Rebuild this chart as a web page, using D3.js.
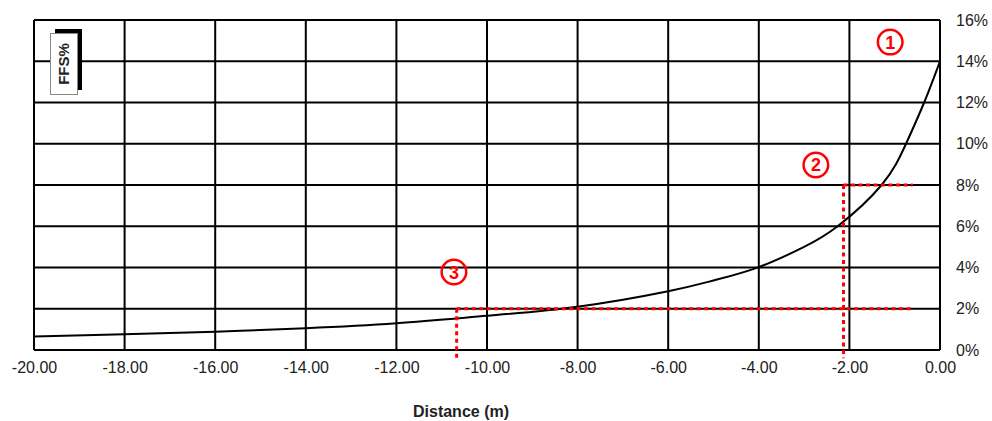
<!DOCTYPE html>
<html>
<head>
<meta charset="utf-8">
<script src="https://cdn.jsdelivr.net/npm/d3@7"></script>
<style>
  body { margin: 0; background: #fff; }
  text { font-family: "Liberation Sans", Arial, sans-serif; }
</style>
</head>
<body>
<div id="graph"></div>
<script>
// curve: distance (m) vs FFS (%)
const distances = [-20, -18, -16, -14, -12, -10, -8, -6, -5, -4, -3, -2.26, -1.29, -0.75, -0.35, 0];
const ffsValues = [0.65, 0.76, 0.89, 1.06, 1.3, 1.66, 2.1, 2.85, 3.37, 4.02, 5.0, 6.0, 8.0, 10.0, 12.0, 14.0];

const xTicks = [-20, -18, -16, -14, -12, -10, -8, -6, -4, -2, 0];
const yTicks = [0, 2, 4, 6, 8, 10, 12, 14, 16];

// red dotted guide lines [x1, y1, x2, y2] in data units
const guides = [
  [-2.13, 8, -0.6, 8],
  [-2.13, 8, -2.13, -0.4],
  [-10.67, 2, -0.6, 2],
  [-10.67, 2, -10.67, -0.4]
];
// circled markers
const markerLabels = ["1", "2", "3"];
const markerPos = [[-1.1, 14.93], [-2.74, 8.97], [-10.73, 3.78]];

const W = 992, H = 421;
const mLeft = 34, mRight = 940, mTop = 20, mBottom = 350;

const x = d3.scaleLinear().domain([-20, 0]).range([mLeft, mRight]);
const y = d3.scaleLinear().domain([0, 16]).range([mBottom, mTop]);

const svg = d3.select("#graph").append("svg")
  .attr("width", W).attr("height", H);

// grid
svg.append("g").selectAll("line").data(xTicks).enter().append("line")
  .attr("x1", d => x(d)).attr("x2", d => x(d))
  .attr("y1", mTop).attr("y2", mBottom)
  .attr("stroke", "#000").attr("stroke-width", 2);
svg.append("g").selectAll("line").data(yTicks).enter().append("line")
  .attr("x1", mLeft).attr("x2", mRight)
  .attr("y1", d => y(d)).attr("y2", d => y(d))
  .attr("stroke", "#000").attr("stroke-width", 2);

// axes labels
const xAxis = d3.axisBottom(x).tickValues(xTicks).tickFormat(d => d.toFixed(2)).tickSize(0).tickPadding(12);
const gx = svg.append("g").attr("transform", "translate(0," + mBottom + ")").call(xAxis);
gx.select(".domain").remove();
gx.selectAll("text").attr("font-size", 16).attr("fill", "#222")
  .attr("font-family", "'Liberation Sans', Arial, sans-serif");

const yAxis = d3.axisRight(y).tickValues(yTicks).tickFormat(d => d + "%").tickSize(0).tickPadding(16);
const gy = svg.append("g").attr("transform", "translate(" + mRight + ",0)").call(yAxis);
gy.select(".domain").remove();
gy.selectAll("text").attr("font-size", 16).attr("fill", "#222")
  .attr("font-family", "'Liberation Sans', Arial, sans-serif");

svg.append("text")
  .attr("x", 461).attr("y", 417)
  .attr("text-anchor", "middle")
  .attr("font-size", 16).attr("font-weight", "bold").attr("fill", "#222")
  .text("Distance (m)");

// curve
const line = d3.line()
  .x((d, i) => x(distances[i]))
  .y(d => y(d))
  .curve(d3.curveNatural);
svg.append("path")
  .datum(ffsValues)
  .attr("d", line)
  .attr("fill", "none")
  .attr("stroke", "#000")
  .attr("stroke-width", 2);

// guides
svg.append("g").selectAll("line").data(guides).enter().append("line")
  .attr("x1", d => x(d[0])).attr("y1", d => y(d[1]))
  .attr("x2", d => x(d[2])).attr("y2", d => y(d[3]))
  .attr("stroke", "#f00").attr("stroke-width", 3)
  .attr("stroke-dasharray", "4,3.5");

// markers
const mk = svg.append("g").selectAll("g").data(markerLabels).enter().append("g")
  .attr("transform", (d, i) => "translate(" + x(markerPos[i][0]) + "," + y(markerPos[i][1]) + ")");
mk.append("circle").attr("r", 12.3).attr("fill", "none")
  .attr("stroke", "#f00").attr("stroke-width", 2.5);
mk.append("text").text(d => d)
  .attr("text-anchor", "middle").attr("dy", "0.36em")
  .attr("font-size", 18).attr("font-weight", "bold").attr("fill", "#f00");

// FFS% label box with shadow
svg.append("rect").attr("x", 55).attr("y", 29).attr("width", 27).attr("height", 61).attr("fill", "#000");
svg.append("rect").attr("x", 50.5).attr("y", 33.5).attr("width", 27).attr("height", 61)
  .attr("fill", "#fff").attr("stroke", "#888").attr("stroke-width", 1);
svg.append("text")
  .attr("transform", "translate(64,64) rotate(-90)")
  .attr("text-anchor", "middle").attr("dy", "0.36em")
  .attr("font-size", 15).attr("font-weight", "bold").attr("fill", "#222")
  .text("FFS%");
</script>
</body>
</html>
